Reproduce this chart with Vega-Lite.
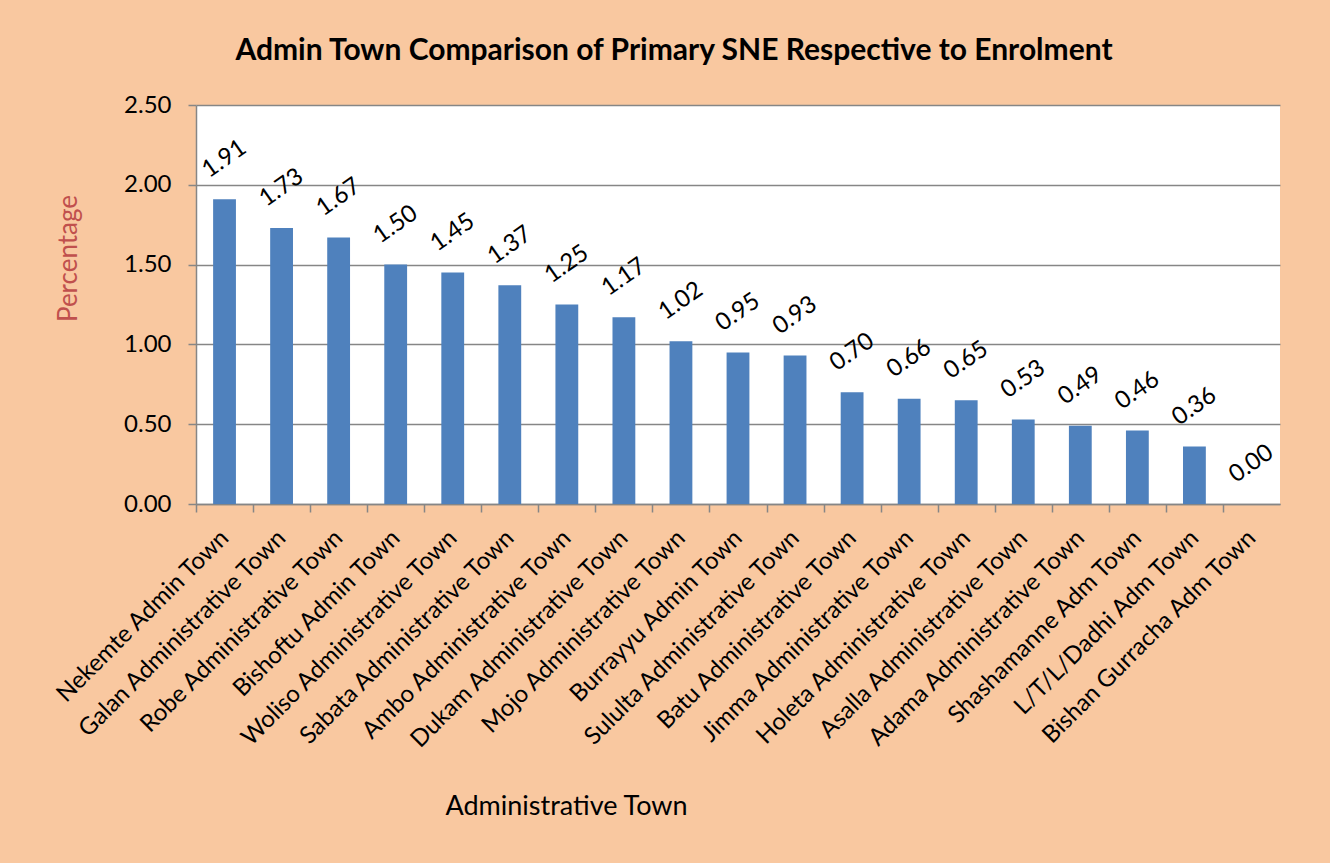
{
  "$schema": "https://vega.github.io/schema/vega-lite/v6.json",
  "autosize": {"type": "none"},
  "width": 1084,
  "height": 399,
  "padding": {"left": 196, "top": 105, "right": 50, "bottom": 359},
  "background": "#F9C8A0",
  "title": {
    "text": "Admin Town Comparison of Primary SNE Respective to Enrolment",
    "font": "Lato",
    "fontSize": 30,
    "fontWeight": "bold",
    "color": "black",
    "anchor": "middle",
    "frame": "group",
    "dx": -64,
    "dy": 40,
    "offset": 43,
    "baseline": "alphabetic"
  },
  "config": {
    "font": "Lato",
    "view": {"fill": "white", "stroke": null}
  },
  "data": {
    "values": [
      {"town": "Nekemte Admin Town", "value": 1.91},
      {"town": "Galan Administrative Town", "value": 1.73},
      {"town": "Robe Administrative Town", "value": 1.67},
      {"town": "Bishoftu Admin Town", "value": 1.50},
      {"town": "Woliso Administrative Town", "value": 1.45},
      {"town": "Sabata Administrative Town", "value": 1.37},
      {"town": "Ambo Administrative Town", "value": 1.25},
      {"town": "Dukam Administrative Town", "value": 1.17},
      {"town": "Mojo Administrative Town", "value": 1.02},
      {"town": "Burrayyu Admin Town", "value": 0.95},
      {"town": "Sululta Administrative Town", "value": 0.93},
      {"town": "Batu Administrative Town", "value": 0.70},
      {"town": "Jimma Administrative Town", "value": 0.66},
      {"town": "Holeta Administrative Town", "value": 0.65},
      {"town": "Asalla Administrative Town", "value": 0.53},
      {"town": "Adama Administrative Town", "value": 0.49},
      {"town": "Shashamanne Adm Town", "value": 0.46},
      {"town": "L/T/L/Dadhi Adm Town", "value": 0.36},
      {"town": "Bishan Gurracha Adm Town", "value": 0.00}
    ]
  },
  "encoding": {
    "x": {
      "field": "town",
      "type": "nominal",
      "sort": null,
      "scale": {"paddingInner": 0.6, "paddingOuter": 0.3},
      "axis": {
        "title": "Administrative Town",
        "titleFont": "Lato",
        "titleFontSize": 27,
        "titleFontWeight": "normal",
        "titleColor": "black",
        "titleX": 370,
        "titleY": 302,
        "titleAlign": "center",
        "titleBaseline": "middle",
        "titleAngle": 0,
        "labelAngle": -45,
        "labelAlign": "right",
        "labelBaseline": "middle",
        "labelFontSize": 24,
        "labelColor": "black",
        "labelPadding": 22,
        "labelLimit": 500,
        "labelOverlap": false,
        "tickOffset": -28.53,
        "labelOffset": 28.53,
        "tickSize": 8,
        "tickColor": "#868686",
        "tickWidth": 1.5,
        "domainColor": "#868686",
        "domainWidth": 1.5,
        "grid": false
      }
    },
    "y": {
      "field": "value",
      "type": "quantitative",
      "scale": {"domain": [0, 2.5], "nice": false},
      "axis": {
        "title": "Percentage",
        "titleFont": "Lato",
        "titleFontSize": 26,
        "titleFontWeight": "normal",
        "titleColor": "#C0504D",
        "titleX": -128,
        "titleY": 153,
        "titleAngle": 270,
        "titleAlign": "center",
        "titleBaseline": "middle",
        "values": [0, 0.5, 1, 1.5, 2, 2.5],
        "format": ".2f",
        "labelFontSize": 24,
        "labelColor": "black",
        "labelPadding": 17,
        "tickSize": 8,
        "tickColor": "#868686",
        "tickWidth": 1.5,
        "domainColor": "#868686",
        "domainWidth": 1.5,
        "grid": true,
        "gridColor": "#868686",
        "gridWidth": 1.5
      }
    }
  },
  "layer": [
    {
      "mark": {"type": "bar", "color": "#4F81BD"}
    },
    {
      "mark": {
        "type": "text",
        "angle": 325,
        "fontSize": 24,
        "align": "center",
        "baseline": "middle",
        "yOffset": -40,
        "color": "black"
      },
      "encoding": {
        "text": {"field": "value", "type": "quantitative", "format": ".2f"}
      }
    }
  ]
}
